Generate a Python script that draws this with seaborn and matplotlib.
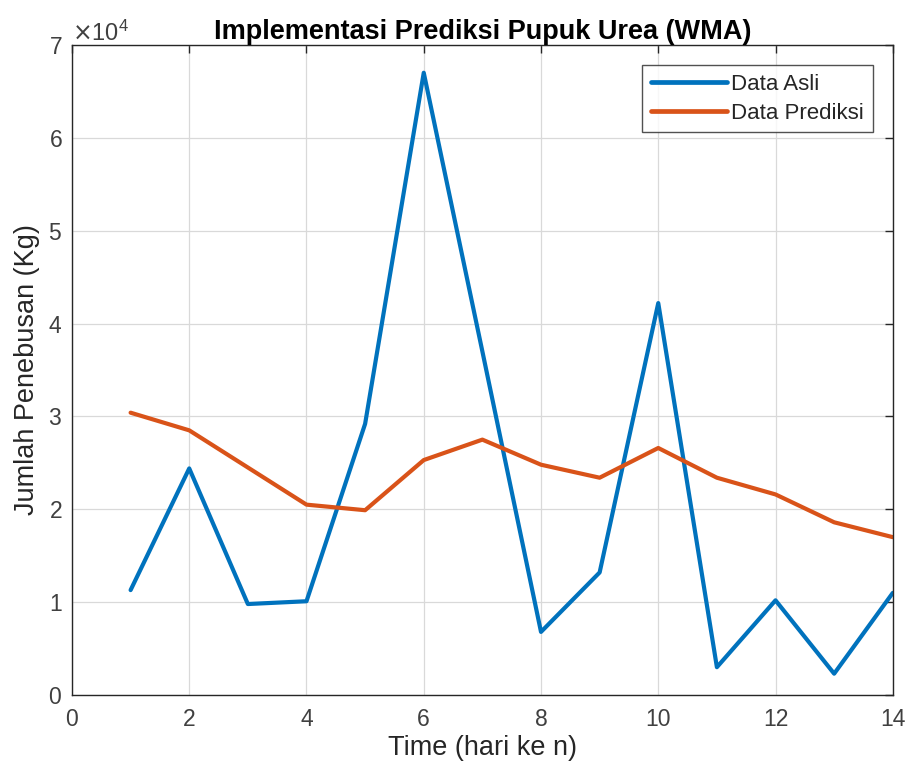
import numpy as np
import pandas as pd
import seaborn as sns
import matplotlib
matplotlib.use("Agg")
import matplotlib.pyplot as plt
from matplotlib.ticker import ScalarFormatter

# data
hari = [1, 2, 3, 4, 5, 6, 7, 8, 9, 10, 11, 12, 13, 14]
data_asli = [11300, 24400, 9800, 10100, 29200, 67000, 37000, 6800, 13200, 42200, 3000, 10200, 2300, 11000]
data_prediksi = [30400, 28500, 24500, 20500, 19900, 25300, 27500, 24800, 23400, 26600, 23400, 21600, 18600, 17000]

df = pd.DataFrame({
    "hari": hari * 2,
    "nilai": data_asli + data_prediksi,
    "seri": ["Data Asli"] * len(hari) + ["Data Prediksi"] * len(hari),
})

sns.set_theme(style="white")
plt.rcParams['font.family'] = ['Liberation Sans', 'DejaVu Sans']

fig = plt.figure(figsize=(9.11, 7.74), dpi=100)
ax = fig.add_axes([0.079, 0.102, 0.901, 0.840])

sns.lineplot(data=df, x="hari", y="nilai", hue="seri",
             palette={"Data Asli": "#0072BD", "Data Prediksi": "#D95319"},
             linewidth=3.0, ax=ax)

ax.set_xlim(0, 14)
ax.set_ylim(0, 70000)
ax.set_xticks(np.arange(0, 15, 2))
ax.set_yticks(np.arange(0, 70001, 10000))

fmt = ScalarFormatter(useMathText=True)
fmt.set_powerlimits((0, 0))
ax.yaxis.set_major_formatter(fmt)
ax.yaxis.get_offset_text().set_fontsize(17)
ax.yaxis.get_offset_text().set_color("#4d4d4d")

ax.grid(True, color="#d9d9d9", linewidth=0.9)
for s in ax.spines.values():
    s.set_visible(True)
    s.set_color("#262626")
    s.set_linewidth(1.0)
ax.tick_params(direction="in", length=6, width=1, colors="#262626",
               labelsize=16.5, top=True, right=True, labelcolor="#404040", pad=7)
ax.tick_params(axis="x", pad=9)

ax.set_title("Implementasi Prediksi Pupuk Urea (WMA)", fontsize=19.5, fontweight="bold",
             pad=4, color="black")
ax.set_xlabel("Time (hari ke n)", fontsize=19.5, color="#262626", labelpad=3)
ax.set_ylabel("Jumlah Penebusan (Kg)", fontsize=19.5, color="#262626", labelpad=6)

leg = ax.legend(loc="upper right", fontsize=16, frameon=True, fancybox=False,
                edgecolor="#262626", handlelength=3.4, handletextpad=0.2,
                borderaxespad=0.9, borderpad=0.4, labelspacing=0.35)
leg.get_frame().set_linewidth(1.0)
for h in leg.get_lines():
    h.set_linewidth(3.4)

fig.savefig("out.png", dpi=100)
